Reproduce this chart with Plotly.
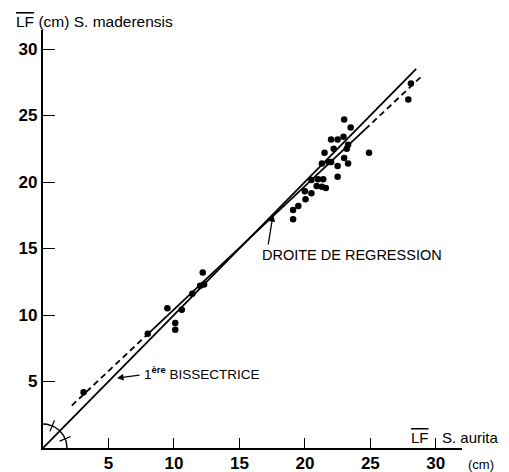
import numpy as np
import plotly.graph_objects as go

# ---- data ----
aurita = [3.1, 8.0, 9.5, 10.1, 10.1, 10.6, 11.4, 12.0, 12.3, 12.2,
          19.1, 19.1, 19.5, 20.05, 20.0, 20.5, 20.5, 20.9, 21.0, 21.4, 21.3, 21.6,
          21.3, 21.8, 22.0, 21.5, 22.2, 22.5, 22.5, 23.0, 23.3, 23.2, 23.3,
          22.0, 22.5, 22.95, 23.0, 23.5, 24.9, 27.9, 28.1]
maderensis = [4.2, 8.6, 10.5, 9.4, 8.9, 10.4, 11.6, 12.2, 12.3, 13.2,
              17.2, 17.9, 18.2, 18.7, 19.3, 19.15, 20.15, 19.7, 20.2, 20.2, 19.65, 19.55,
              21.4, 21.5, 21.5, 22.2, 22.5, 21.2, 20.4, 21.8, 21.4, 22.5, 22.8,
              23.2, 23.2, 23.4, 24.7, 24.1, 22.2, 26.2, 27.4]

reg_intercept = 1.15
reg_slope = 0.927
reg_breaks = [2.2, 7.8, 24.6, 28.9]   # dashed / solid / dashed segments
bisector_range = [0, 28.5]
tick_vals = [5, 10, 15, 20, 25, 30]

X_MAX, Y_MAX = 32.0, 31.43
W, H = 509, 472
ML, MR, MT, MB = 43, 47, 30, 24
PW, PH = W - ML - MR, H - MT - MB
px_x = PW / X_MAX
px_y = PH / Y_MAX

FONT = "Liberation Sans, Arial, sans-serif"

def reg(x):
    return reg_intercept + reg_slope * np.asarray(x)

fig = go.Figure()

# bisector y = x
fig.add_trace(go.Scatter(x=bisector_range, y=bisector_range, mode="lines",
                         line=dict(color="black", width=1.8), hoverinfo="skip"))

# regression line in three segments
segs = [(reg_breaks[0], reg_breaks[1], "6px,4px"),
        (reg_breaks[1], reg_breaks[2], "solid"),
        (reg_breaks[2], reg_breaks[3], "6px,4px")]
for a, b, d in segs:
    xs = np.array([a, b])
    fig.add_trace(go.Scatter(x=xs, y=reg(xs), mode="lines",
                             line=dict(color="black", width=1.8, dash=d), hoverinfo="skip"))

# data points
fig.add_trace(go.Scatter(x=aurita, y=maderensis, mode="markers",
                         marker=dict(color="black", size=6.5, line=dict(width=0))))

# angle arc at origin with two equal-angle marks
r_px = 24
t = np.linspace(0, np.pi / 2, 40)
fig.add_trace(go.Scatter(x=r_px / px_x * np.cos(t), y=r_px / px_y * np.sin(t), mode="lines",
                         line=dict(color="black", width=1.4), hoverinfo="skip"))
for ang in (np.pi / 8, 3 * np.pi / 8):
    rr = np.array([18, 30])
    fig.add_trace(go.Scatter(x=rr / px_x * np.cos(ang), y=rr / px_y * np.sin(ang), mode="lines",
                             line=dict(color="black", width=1.2), hoverinfo="skip"))

def dx(p):
    return (p - ML) / px_x

def dy(p):
    return (H - MB - p) / px_y

def pxp(p):
    return (p - ML) / PW

def pyp(p):
    return (H - MB - p) / PH

OL = '<span style="text-decoration:overline">LF</span>'

ann = []
ann.append(dict(x=pxp(14), y=pyp(21), xref="paper", yref="paper", xanchor="left", yanchor="middle",
                text=OL + " (cm) S. maderensis", showarrow=False,
                font=dict(family=FONT, size=15.5, color="black")))
ann.append(dict(x=pxp(409), y=pyp(437), xref="paper", yref="paper", xanchor="left", yanchor="middle",
                text=OL, showarrow=False, font=dict(family=FONT, size=15, color="black")))
ann.append(dict(x=pxp(440), y=pyp(437), xref="paper", yref="paper", xanchor="left", yanchor="middle",
                text="S. aurita", showarrow=False, font=dict(family=FONT, size=15, color="black")))
ann.append(dict(x=pxp(466), y=pyp(464), xref="paper", yref="paper",
                xanchor="left", yanchor="middle", text="(cm)", showarrow=False,
                font=dict(family=FONT, size=13, color="black")))
ann.append(dict(x=dx(260), y=dy(255), xanchor="left", yanchor="middle",
                text="DROITE DE REGRESSION", showarrow=False,
                font=dict(family=FONT, size=14.5, color="black")))
ann.append(dict(x=dx(142), y=dy(373), xanchor="left", yanchor="middle",
                text="1<sup><b>ère</b></sup> BISSECTRICE", showarrow=False,
                font=dict(family=FONT, size=13.5, color="black")))
# arrows
ann.append(dict(x=dx(273), y=dy(215), text="", showarrow=True, arrowhead=2, arrowsize=1,
                arrowwidth=1.3, arrowcolor="black", ax=-5, ay=31, standoff=0))
ann.append(dict(x=dx(117), y=dy(378), text="", showarrow=True, arrowhead=2, arrowsize=1,
                arrowwidth=1.3, arrowcolor="black", ax=24, ay=-3, standoff=0))

axis_common = dict(showgrid=False, zeroline=False, showline=True, linecolor="black",
                   tickcolor="black", tickvals=tick_vals, ticktext=[str(v) for v in tick_vals],
                   tickfont=dict(family=FONT, size=17, color="black", weight="bold"),
                   fixedrange=True, automargin=False, ticks="inside", tickwidth=1.2)

fig.update_layout(
    width=W, height=H, margin=dict(l=ML, r=MR, t=MT, b=MB, autoexpand=False),
    paper_bgcolor="white", plot_bgcolor="white", showlegend=False,
    annotations=ann,
    xaxis=dict(range=[0, X_MAX], linewidth=1.6, ticklen=10, ticklabelstandoff=-1, **axis_common),
    yaxis=dict(range=[0, Y_MAX], linewidth=2.4, ticklen=12, **axis_common),
)

fig.write_html("out.html", config={"displayModeBar": False})
